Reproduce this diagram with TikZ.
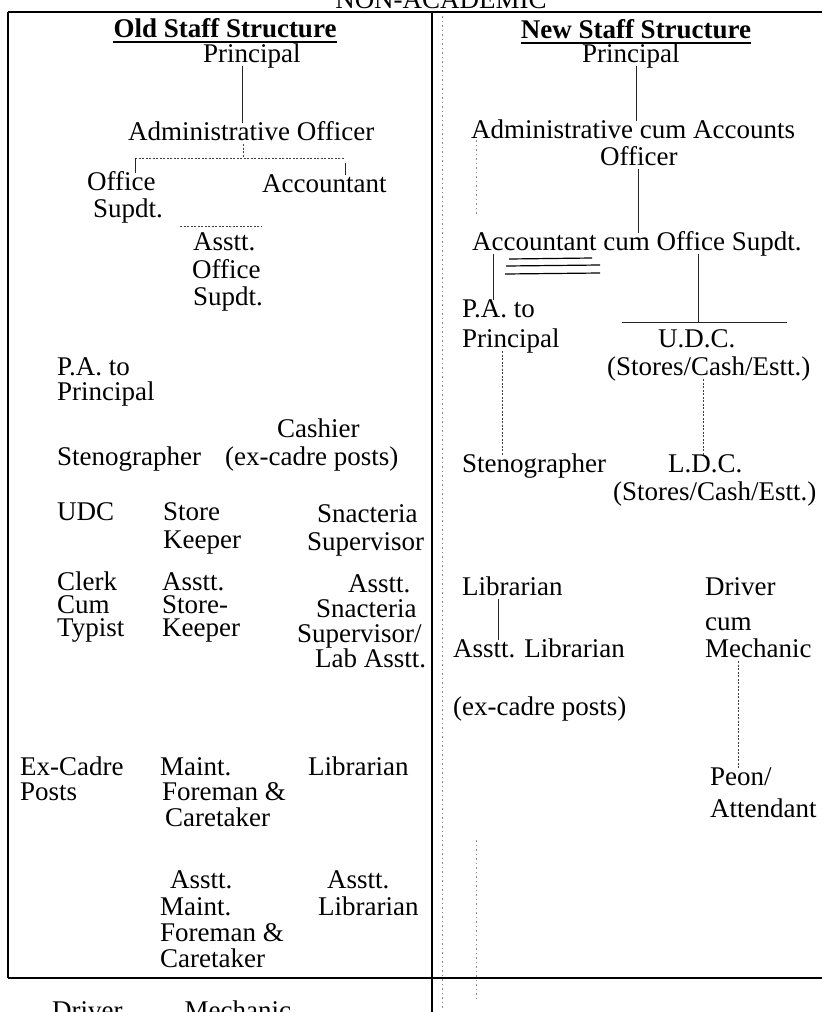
\documentclass[tikz,border=0pt]{standalone}
\usepackage{fontspec}
\setmainfont{Liberation Serif}
\begin{document}
\begin{tikzpicture}[x=1pt,y=-1pt,
  lbl/.style={anchor=base west, inner sep=0pt, text height=17pt, text depth=4pt, font=\fontsize{27}{30}\selectfont},
  hd/.style={anchor=base, inner sep=0pt, text height=18pt, text depth=4pt, font=\fontsize{27}{30}\selectfont\bfseries},
  conn/.style={line width=0.9pt, black!85},
  dotc/.style={line width=0.9pt, black!75, dash pattern=on 2pt off 1.5pt},
  frame/.style={line width=1.6pt, black},
  faint/.style={line width=0.8pt, black!45, dash pattern=on 1.5pt off 3pt}]
\useasboundingbox (0,0) rectangle (822,1012);
\clip (0,0) rectangle (822,1012);

% frame
\draw[frame] (8,12) -- (822,12);
\draw[frame] (8,12) -- (8,978);
\draw[frame] (432,12) -- (432,1012);
\draw[frame] (8,978) -- (822,978);
\draw[faint] (442,16) -- (442,1010);
\draw[faint] (476,140) -- (476,215);
\draw[faint] (476,840) -- (476,1000);

\node[lbl, anchor=base] (title) at (441,8) {NON-ACADEMIC};
\node[lbl] (bottom) at (52,1019) {Driver\hspace{62pt}Mechanic};

% ---------- old structure ----------
\node[hd] (oh) at (225,37) {Old Staff Structure};
\draw[line width=2pt] ([yshift=-5pt]oh.base west) -- ([yshift=-5pt]oh.base east);
\node[lbl] (op) at (203,62) {Principal};
\node[lbl] (oao) at (128,140) {Administrative Officer};
\node[lbl] (oos1) at (87,190) {Office};
\node[lbl] (oos2) at (93,217) {Supdt.};
\node[lbl] (oacc) at (262,192) {Accountant};
\node[lbl] (oaos1) at (193,250) {Asstt.};
\node[lbl] (oaos2) at (192,278) {Office};
\node[lbl] (oaos3) at (193,305) {Supdt.};
\node[lbl] (opa1) at (57,375) {P.A. to};
\node[lbl] (opa2) at (57,400) {Principal};
\node[lbl] (ocash1) at (277,437) {Cashier};
\node[lbl] (osteno) at (57,465) {Stenographer};
\node[lbl] (ocash2) at (225,465) {(ex-cadre posts)};
\node[lbl] (oudc) at (57,520) {UDC};
\node[lbl] (osk1) at (163,520) {Store};
\node[lbl] (osk2) at (163,548) {Keeper};
\node[lbl] (oss1) at (317,522) {Snacteria};
\node[lbl] (oss2) at (307,550) {Supervisor};
\node[lbl] (oct1) at (57,590) {Clerk};
\node[lbl] (oct2) at (57,613) {Cum};
\node[lbl] (oct3) at (57,636) {Typist};
\node[lbl] (oask1) at (162,590) {Asstt.};
\node[lbl] (oask2) at (162,613) {Store-};
\node[lbl] (oask3) at (162,636) {Keeper};
\node[lbl] (oass1) at (348,592) {Asstt.};
\node[lbl] (oass2) at (316,617) {Snacteria};
\node[lbl] (oass3) at (297,642) {Supervisor/};
\node[lbl] (oass4) at (315,667) {Lab Asstt.};
\node[lbl] (oex1) at (20,775) {Ex-Cadre};
\node[lbl] (oex2) at (20,800) {Posts};
\node[lbl] (omf1) at (160,775) {Maint.};
\node[lbl] (omf2) at (162,800) {Foreman \&};
\node[lbl] (omf3) at (165,826) {Caretaker};
\node[lbl] (olib) at (308,775) {Librarian};
\node[lbl] (oamf1) at (170,888) {Asstt.};
\node[lbl] (oamf2) at (160,915) {Maint.};
\node[lbl] (oamf3) at (160,941) {Foreman \&};
\node[lbl] (oamf4) at (160,967) {Caretaker};
\node[lbl] (oal1) at (327,888) {Asstt.};
\node[lbl] (oal2) at (318,915) {Librarian};

\coordinate (jO) at (243,158);
\coordinate (jL) at (135,158);
\coordinate (jR) at (345,158);
\coordinate (jRt) at (345,163);
\coordinate (jAl) at (180,226);
\coordinate (jAr) at (262,226);
\draw[conn] ([xshift=-9pt]op.south) -- ([xshift=-9pt]op.south |- oao.north);
\draw[dotc] (oao.south -| jO) -- (jO);
\draw[dotc] (jL) -- (jR);
\draw[conn] (jL) -- (jL |- oos1.north);
\draw[conn] (jRt) -- (jRt |- oacc.north);
\draw[dotc] (jAl) -- (jAr);

% ---------- new structure ----------
\node[hd] (nh) at (636,38) {New Staff Structure};
\draw[line width=2pt] ([yshift=-5pt]nh.base west) -- ([yshift=-5pt]nh.base east);
\node[lbl] (np) at (582,62) {Principal};
\node[lbl] (nao1) at (471,138) {Administrative cum Accounts};
\node[lbl] (nao2) at (600,165) {Officer};
\node[lbl] (nacc) at (472,250) {Accountant cum Office Supdt.};
\node[lbl] (npa1) at (462,317) {P.A. to};
\node[lbl] (npa2) at (462,347) {Principal};
\node[lbl] (nudc1) at (658,347) {U.D.C.};
\node[lbl] (nudc2) at (607,375) {(Stores/Cash/Estt.)};
\node[lbl] (nsteno) at (462,472) {Stenographer};
\node[lbl] (nldc1) at (668,472) {L.D.C.};
\node[lbl] (nldc2) at (613,500) {(Stores/Cash/Estt.)};
\node[lbl] (nlib) at (462,595) {Librarian};
\node[lbl] (nalib) at (453,657) {Asstt. Librarian};
\node[lbl] (nex) at (453,715) {(ex-cadre posts)};
\node[lbl] (ndm1) at (705,595) {Driver};
\node[lbl] (ndm2) at (705,630) {cum};
\node[lbl] (ndm3) at (705,657) {Mechanic};
\node[lbl] (npeon1) at (710,785) {Peon/};
\node[lbl] (npeon2) at (710,817) {Attendant};

% hand underlines
\draw[line width=1.2pt] (509,259) -- (592,258);
\draw[line width=1.2pt] (506,266) -- (600,265);
\draw[line width=1.2pt] (505,274) -- (600,273);

\coordinate (cP) at (636,0);
\coordinate (cA) at (493,0);
\coordinate (hU) at (698,322);
\coordinate (hUl) at (622,322);
\coordinate (hUr) at (787,322);
\coordinate (cS) at (502,0);
\coordinate (cL) at (703,0);
\coordinate (cLib) at (498,0);
\coordinate (cD) at (738,0);
\draw[conn] (np.south -| cP) -- (nao1.north -| cP);
\draw[conn] (nao2.south) -- (nao2.south |- nacc.north);
\draw[conn] (nacc.south -| cA) -- (npa1.north -| cA);
\draw[conn] (nacc.south -| hU) -- (hU);
\draw[conn] (hUl) -- (hUr);
\draw[dotc] (npa2.south -| cS) -- (nsteno.north -| cS);
\draw[dotc] (nudc2.south -| cL) -- (nldc1.north -| cL);
\draw[conn] (nlib.south -| cLib) -- (nalib.north -| cLib);
\draw[dotc] (ndm3.south -| cD) -- (npeon1.north -| cD);
\end{tikzpicture}
\end{document}
